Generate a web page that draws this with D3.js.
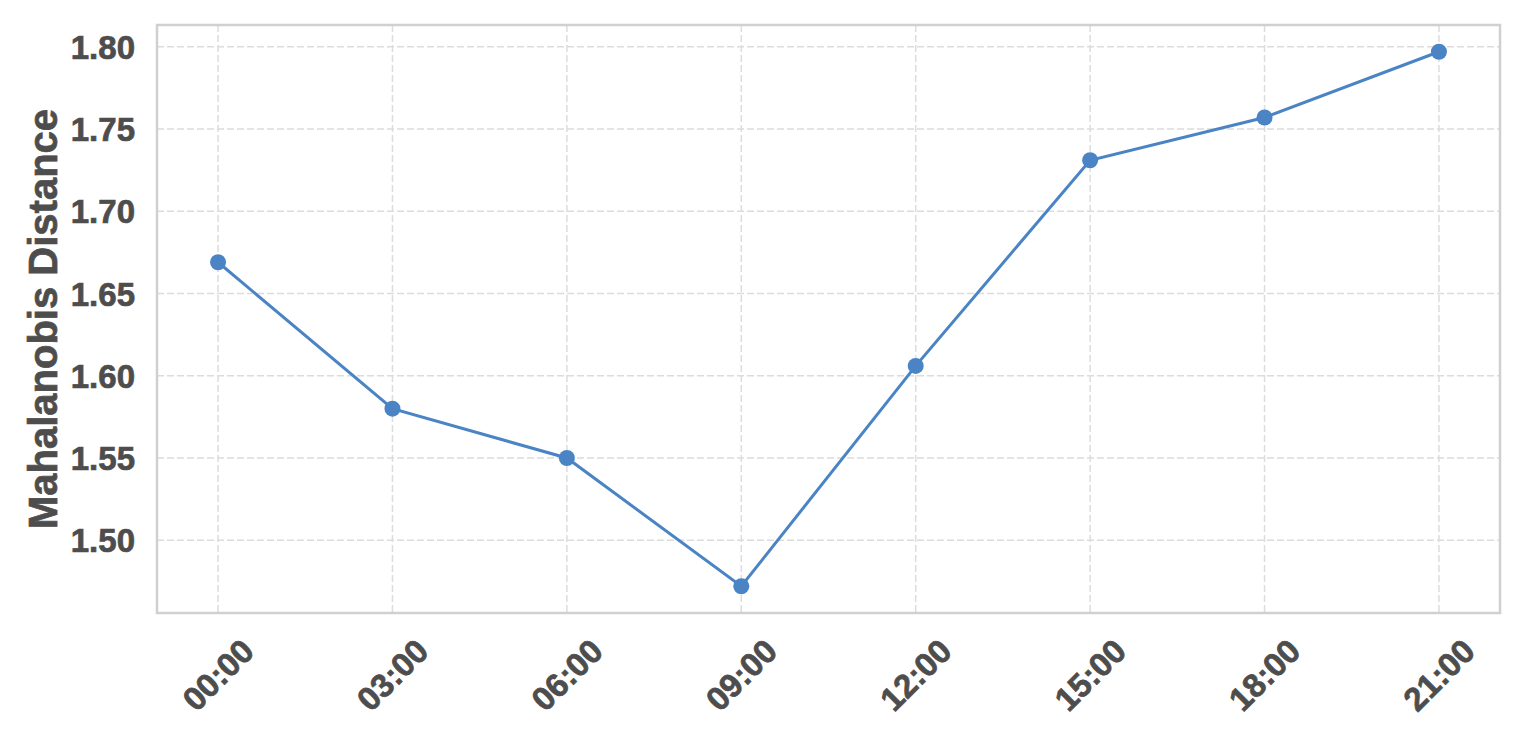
<!DOCTYPE html>
<meta charset="utf-8">
<html>
  <head>
    <script src="https://d3js.org/d3.v7.min.js"></script>
    <style>
      body { margin: 0; background: #fff; }
      text { font-family: "Liberation Sans", Arial, sans-serif; font-weight: bold; fill: #4d4d4d;
             stroke: #4d4d4d; stroke-width: 0.7px; }
    </style>
  </head>
  <body>
    <div id="chart"></div>
    <script>
        // data
        var hours = ["00:00", "03:00", "06:00", "09:00", "12:00", "15:00", "18:00", "21:00"];
        var distance = [1.669, 1.580, 1.550, 1.472, 1.606, 1.731, 1.757, 1.797];
        var y_ticks = [1.50, 1.55, 1.60, 1.65, 1.70, 1.75, 1.80];

        var total_width = 1535, total_height = 736;
        var margin = {top: 25, right: 35, bottom: 123, left: 157};
        var width = total_width - margin.left - margin.right,
            height = total_height - margin.top - margin.bottom;

        var svg = d3.select("#chart").append("svg")
            .attr("width", total_width)
            .attr("height", total_height);

        var g = svg.append("g")
            .attr("transform", "translate(" + margin.left + "," + margin.top + ")");

        // matplotlib style 5% margins
        var n = hours.length;
        var x_scale = d3.scaleLinear()
            .domain([-0.35, n - 1 + 0.35])
            .range([0, width]);
        var lo = d3.min(distance), hi = d3.max(distance), pad = (hi - lo) * 0.05;
        var y_scale = d3.scaleLinear()
            .domain([lo - pad, hi + pad])
            .range([height, 0]);

        // grid
        g.append("g").selectAll("line")
            .data(y_ticks)
            .enter().append("line")
            .attr("x1", 0).attr("x2", width)
            .attr("y1", function(d){ return y_scale(d); })
            .attr("y2", function(d){ return y_scale(d); })
            .attr("stroke", "#dcdcdc").attr("stroke-width", 1.5)
            .attr("stroke-dasharray", "7,3");
        g.append("g").selectAll("line")
            .data(hours)
            .enter().append("line")
            .attr("x1", function(d, i){ return x_scale(i); })
            .attr("x2", function(d, i){ return x_scale(i); })
            .attr("y1", 0).attr("y2", height)
            .attr("stroke", "#dcdcdc").attr("stroke-width", 1.5)
            .attr("stroke-dasharray", "7,3");

        // y axis labels
        var y_axis = d3.axisLeft(y_scale)
            .tickValues(y_ticks)
            .tickFormat(d3.format(".2f"))
            .tickSize(0)
            .tickPadding(22);
        var ya = g.append("g").call(y_axis);
        ya.select(".domain").remove();
        ya.selectAll("text").style("font-size", "33px").attr("dy", "0.35em")
            .attr("font-family", null).attr("fill", null);

        // x axis labels, rotated 45
        var xa = g.append("g");
        xa.selectAll("text")
            .data(hours)
            .enter().append("text")
            .attr("transform", function(d, i){
                return "translate(" + x_scale(i) + "," + (height + 62) + ") rotate(-45)";
            })
            .attr("text-anchor", "middle")
            .attr("dy", "0.35em")
            .style("font-size", "33px")
            .text(function(d){ return d; });

        // y title
        g.append("text")
            .attr("transform", "translate(" + (-114) + "," + (height / 2) + ") rotate(-90)")
            .attr("text-anchor", "middle")
            .attr("dy", "0.35em")
            .style("font-size", "40px")
            .text("Mahalanobis Distance");

        // line + markers
        var line = d3.line()
            .x(function(d, i){ return x_scale(i); })
            .y(function(d){ return y_scale(d); });
        g.append("path")
            .datum(distance)
            .attr("d", line)
            .attr("fill", "none")
            .attr("stroke", "#4a84c4")
            .attr("stroke-width", 3);
        g.append("g").selectAll("circle")
            .data(distance)
            .enter().append("circle")
            .attr("cx", function(d, i){ return x_scale(i); })
            .attr("cy", function(d){ return y_scale(d); })
            .attr("r", 8)
            .attr("fill", "#4a84c4");

        // frame
        g.append("rect")
            .attr("width", width).attr("height", height)
            .attr("fill", "none")
            .attr("stroke", "#d0d0d0").attr("stroke-width", 2.5);
    </script>
  </body>
</html>
